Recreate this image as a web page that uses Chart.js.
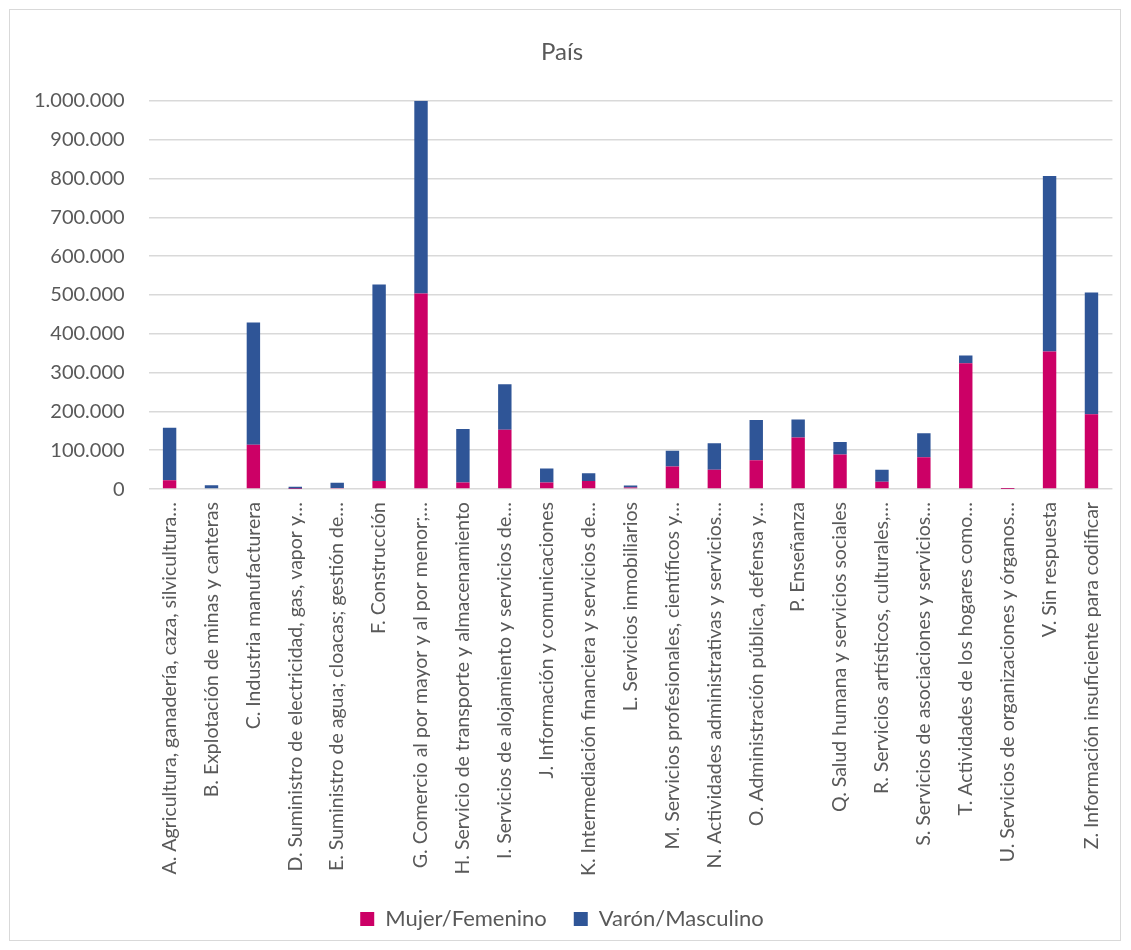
<!DOCTYPE html>
<html>
<head>
<meta charset="utf-8">
<script src="https://cdn.jsdelivr.net/npm/chart.js@4"></script>
<style>
  body { margin: 0; background: #fff; }
  #box {
    position: absolute; left: 9px; top: 9px;
    width: 1110px; height: 930px;
    border: 1px solid #d9d9d9; background: #fff;
  }
</style>
</head>
<body>
<div id="box"><canvas id="paisChart"></canvas></div>
<script>
const categories = [
  "A. Agricultura, ganadería, caza, silvicultura…",
  "B. Explotación de minas y canteras",
  "C. Industria manufacturera",
  "D. Suministro de electricidad, gas, vapor y…",
  "E. Suministro de agua; cloacas; gestión de…",
  "F. Construcción",
  "G. Comercio al por mayor y al por menor;…",
  "H. Servicio de transporte y almacenamiento",
  "I. Servicios de alojamiento y servicios de…",
  "J. Información y comunicaciones",
  "K. Intermediación financiera y servicios de…",
  "L. Servicios inmobiliarios",
  "M. Servicios profesionales, científicos y…",
  "N. Actividades administrativas y servicios…",
  "O. Administración pública, defensa y…",
  "P. Enseñanza",
  "Q. Salud humana y servicios sociales",
  "R. Servicios artísticos, culturales,…",
  "S. Servicios de asociaciones y servicios…",
  "T. Actividades de los hogares como…",
  "U. Servicios de organizaciones y órganos…",
  "V. Sin respuesta",
  "Z. Información insuficiente para codificar"
];

const mujer = [23000, 2000, 114000, 1000, 3000, 21000, 504000, 17000, 153000, 17000, 21000, 4000, 58000, 50000, 74000, 133000, 89000, 19000, 82000, 324000, 300, 354000, 193000];
const varon = [135000, 8000, 315000, 5000, 13000, 506000, 496000, 138000, 117000, 36000, 20000, 5000, 41000, 68000, 104000, 46000, 32000, 31000, 62000, 20000, 400, 452000, 313000];

const yTicks = [0, 100000, 200000, 300000, 400000, 500000, 600000, 700000, 800000, 900000, 1000000];

const textColor = "#595959";
const fontName = "Lato, 'Open Sans', sans-serif";

function fmt(v) {
  return String(v).replace(/\B(?=(\d{3})+(?!\d))/g, ".");
}

const ctx = document.getElementById("paisChart").getContext("2d");

new Chart(ctx, {
  type: 'bar',
  data: {
    labels: categories,
    datasets: [
      {
        label: 'Mujer/Femenino',
        data: mujer,
        backgroundColor: "#CC0066",
        barPercentage: 0.32,
        categoryPercentage: 1
      },
      {
        label: 'Varón/Masculino',
        data: varon,
        backgroundColor: "#2F5597",
        barPercentage: 0.32,
        categoryPercentage: 1
      }
    ]
  },
  options: {
    responsive: true,
    maintainAspectRatio: false,
    animation: false,
    layout: {
      padding: { left: 0, right: 6, top: 28, bottom: 0 }
    },
    plugins: {
      title: {
        display: true,
        text: 'País',
        color: textColor,
        font: { family: fontName, size: 24, weight: 'normal' },
        padding: { top: 0, bottom: 34 }
      },
      legend: {
        position: 'bottom',
        labels: {
          color: textColor,
          font: { family: fontName, size: 22 },
          boxWidth: 14,
          boxHeight: 14,
          padding: 27
        }
      },
      tooltip: {
        callbacks: {
          label: function (context) {
            return `${context.dataset.label}: ${fmt(context.raw)}`;
          }
        }
      }
    },
    scales: {
      x: {
        stacked: true,
        grid: { display: false },
        border: { display: false },
        ticks: {
          color: textColor,
          font: { family: fontName, size: 19.5 },
          padding: 5,
          maxRotation: 90,
          minRotation: 90,
          autoSkip: false
        }
      },
      y: {
        stacked: true,
        min: 0,
        max: 1000000,
        afterBuildTicks: function (axis) {
          axis.ticks = yTicks.map(v => ({ value: v }));
        },
        grid: { color: "#d9d9d9", lineWidth: 1.5, drawTicks: false },
        border: { display: false },
        ticks: {
          color: textColor,
          font: { family: fontName, size: 20 },
          padding: 24,
          callback: function (value) { return fmt(value); }
        }
      }
    }
  }
});
</script>
</body>
</html>
